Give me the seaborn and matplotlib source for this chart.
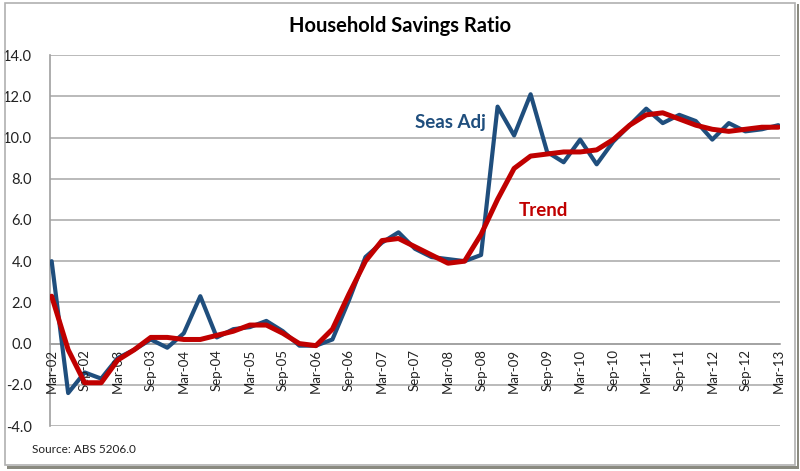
import numpy as np
import pandas as pd
import matplotlib
matplotlib.use("Agg")
import matplotlib.pyplot as plt
import seaborn as sns
from matplotlib.patches import Rectangle

sns.set_style("white")
plt.rcParams['font.family'] = ['Lato', 'DejaVu Sans']

years = ["02", "03", "04", "05", "06", "07", "08", "09", "10", "11", "12", "13"]
months = ["Mar", "Jun", "Sep", "Dec"]
quarters = [f"{m}-{y}" for y in years for m in months][:45]

seas_adj = [4.0, -2.4, -1.4, -1.7, -0.7, -0.3, 0.2, -0.2, 0.5, 2.3,
            0.3, 0.7, 0.8, 1.1, 0.6, -0.1, -0.1, 0.2, 2.1, 4.2,
            4.9, 5.4, 4.6, 4.2, 4.1, 4.0, 4.3, 11.5, 10.1, 12.1,
            9.3, 8.8, 9.9, 8.7, 9.8, 10.6, 11.4, 10.7, 11.1, 10.8,
            9.9, 10.7, 10.3, 10.4, 10.6]
trend = [2.3, -0.3, -1.9, -1.9, -0.8, -0.3, 0.3, 0.3, 0.2, 0.2,
         0.4, 0.6, 0.9, 0.9, 0.5, 0.0, -0.1, 0.7, 2.4, 4.0,
         5.0, 5.1, 4.7, 4.3, 3.9, 4.0, 5.3, 7.0, 8.5, 9.1,
         9.2, 9.3, 9.3, 9.4, 9.9, 10.6, 11.1, 11.2, 10.9, 10.6,
         10.4, 10.3, 10.4, 10.5, 10.5]
series_names = ["Seas Adj", "Trend"]
tick_labels = quarters[::2]
y_ticks = [-4.0, -2.0, 0.0, 2.0, 4.0, 6.0, 8.0, 10.0, 12.0, 14.0]

blue = "#1F4E7D"
red = "#C00000"

idx = np.arange(len(quarters))
df = pd.DataFrame({
    "idx": np.concatenate([idx, idx]),
    "value": seas_adj + trend,
    "series": [series_names[0]] * len(quarters) + [series_names[1]] * len(quarters),
})

fig = plt.figure(figsize=(8.0, 4.71), dpi=100)
ax = fig.add_axes([0.0625, 0.0955, 0.9125, 0.7875])

# frame
fig.patches.append(Rectangle((0.006, 0.012), 0.988, 0.982, transform=fig.transFigure,
                             fill=False, edgecolor="#B0B0B0", linewidth=1.2))
fig.patches.append(Rectangle((0.996, 0.006), 0.003, 0.985, transform=fig.transFigure,
                             facecolor="#8A8A80", edgecolor="none"))
fig.patches.append(Rectangle((0.009, 0.004), 0.99, 0.007, transform=fig.transFigure,
                             facecolor="#8A8A80", edgecolor="none"))

for yv in y_ticks:
    ax.axhline(yv, color="#B4B4B4", linewidth=1.3, zorder=0)

sns.lineplot(data=df[df.series == "Seas Adj"], x="idx", y="value", ax=ax,
             color=blue, linewidth=3.0, legend=False, zorder=3)
sns.lineplot(data=df[df.series == "Trend"], x="idx", y="value", ax=ax,
             color=red, linewidth=3.6, legend=False, zorder=4)

ax.set_xlim(-0.1, len(quarters) - 1 + 0.1)
ax.set_ylim(-4.0, 14.0)
ax.set_yticks(y_ticks)
ax.set_yticklabels([f"{v:.1f}" for v in y_ticks], fontsize=10.5, color="#222222")
ax.tick_params(axis="y", length=0, pad=13)

ax.set_xticks(idx[::2])
ax.set_xticklabels([])
ax.tick_params(axis="x", length=4, width=1, color="#A0A0A0", direction="out")
ax.spines["bottom"].set_position(("data", 0))
ax.spines["bottom"].set_color("#A0A0A0")
ax.spines["bottom"].set_linewidth(1.2)
for s in ["top", "right"]:
    ax.spines[s].set_visible(False)
ax.spines["left"].set_color("#A0A0A0")
ax.spines["left"].set_linewidth(1.2)

for i, lab in zip(idx[::2], tick_labels):
    ax.text(i, -0.25, lab, rotation=90, ha="center", va="top", fontsize=9.5,
            color="#222222")

ax.set_xlabel("")
ax.set_ylabel("")

ax.text(22.0, 10.75, "Seas Adj", color=blue, fontsize=13.5, fontweight="bold",
        ha="left", va="center")
ax.text(28.3, 6.45, "Trend", color=red, fontsize=13.5, fontweight="bold",
        ha="left", va="center")

fig.text(0.5, 0.945, "Household Savings Ratio", ha="center", va="center",
         fontsize=14.5, fontweight="bold", color="#000000")
fig.text(0.04, 0.045, "Source: ABS 5206.0", ha="left", va="center",
         fontsize=8.5, color="#222222")

fig.savefig("out.png", dpi=100)
